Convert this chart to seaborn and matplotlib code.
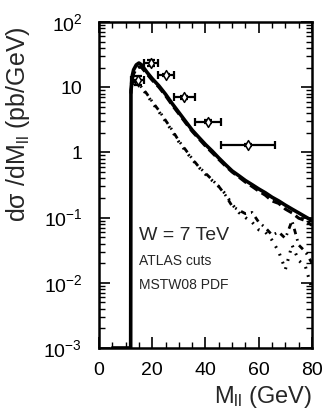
import numpy as np
import pandas as pd
import seaborn as sns
import matplotlib
matplotlib.use("Agg")
import matplotlib.pyplot as plt
from matplotlib.ticker import FixedLocator, FixedFormatter, MultipleLocator, LogLocator, NullFormatter

# invariant mass grid (GeV)
mll = [5, 11.9, 12.0, 12.5, 13, 14, 15, 16, 18, 20, 22.5, 25, 27.5, 30, 32.5, 35,
       37.5, 40, 42.5, 45, 47.5, 50, 52.5, 55, 57.5, 60, 62.5, 65, 67.5, 70,
       72.5, 75, 77.5, 80]

# solid: total
sig_total = [1e-3, 1e-3, 9, 15, 18.5, 22, 23.5, 22, 17, 13.5, 10.5, 7.8, 5.6, 4.1,
             3.0, 2.2, 1.7, 1.32, 1.05, 0.82, 0.65, 0.52, 0.44, 0.37, 0.32, 0.275,
             0.24, 0.205, 0.18, 0.155, 0.135, 0.118, 0.103, 0.09]
# dashed
sig_dash = [np.nan, np.nan, 8, 13, 16, 19, 20.5, 20, 16, 12.8, 10.0, 7.4, 5.3, 3.9,
            2.85, 2.1, 1.62, 1.25, 0.99, 0.78, 0.62, 0.5, 0.42, 0.35, 0.3, 0.255,
            0.22, 0.18, 0.165, 0.135, 0.118, 0.098, 0.09, 0.076]
# dotted
sig_dot = [np.nan, np.nan, np.nan, 11, 12, 11, 10.5, 9.8, 7.6, 5.8, 4.2, 3.0, 2.1,
           1.45, 1.05, 0.78, 0.59, 0.46, 0.37, 0.3, 0.23, 0.16, 0.12, 0.1, 0.085,
           0.065, 0.06, 0.045, 0.03, 0.016, 0.038, 0.022, 0.018, 0.008]
# dash-dot
sig_dashdot = [np.nan, np.nan, np.nan, 12, 12.5, 11.5, 10.8, 10.0, 7.9, 6.0, 4.4,
               3.1, 2.2, 1.5, 1.1, 0.8, 0.6, 0.48, 0.38, 0.3, 0.22, 0.15, 0.13,
               0.115, 0.12, 0.085, 0.07, 0.054, 0.06, 0.048, 0.09, 0.038, 0.03, 0.02]

# ATLAS data
atlas_m = [14.5, 19.5, 25.0, 32.0, 41.0, 56.0]
atlas_lo = [12, 17, 22, 28, 36, 46]
atlas_hi = [17, 22, 28, 36, 46, 66]
atlas_sig = [12.9, 23.8, 15.4, 7.0, 2.96, 1.30]
atlas_err = [2.0, 2.8, 0.8, 0.4, 0.15, 0.06]

ytick_vals = [1e-3, 1e-2, 1e-1, 1, 10, 100]
ytick_labels = [r'$10^{-3}$', r'$10^{-2}$', r'$10^{-1}$', '1', '10', r'$10^{2}$']

sns.set_theme(style="ticks")
plt.rcParams['font.family'] = ['Liberation Sans', 'DejaVu Sans']
plt.rcParams['mathtext.fontset'] = 'custom'
plt.rcParams['mathtext.rm'] = 'Liberation Sans'
plt.rcParams['mathtext.it'] = 'Liberation Sans'

df = pd.DataFrame({'M': mll, 'total': sig_total, 'dash': sig_dash,
                   'dot': sig_dot, 'dashdot': sig_dashdot})

fig = plt.figure(figsize=(3.25, 4.17), dpi=100)
ax = fig.add_axes([0.3046, 0.1655, 0.6554, 0.7817])

sns.lineplot(data=df, x='M', y='total', ax=ax, color='black', lw=2.6)
sns.lineplot(data=df.dropna(subset=['dash']), x='M', y='dash', ax=ax,
             color='black', lw=2.2, linestyle=(0, (3, 1.5)))
sns.lineplot(data=df.dropna(subset=['dot']), x='M', y='dot', ax=ax,
             color='black', lw=2.2, linestyle=(0, (0.6, 2.2)))
sns.lineplot(data=df.dropna(subset=['dashdot']), x='M', y='dashdot', ax=ax,
             color='black', lw=2.0, linestyle=(0, (2.0, 1.8, 0.6, 1.8)))

xerr = [np.array(atlas_m) - np.array(atlas_lo), np.array(atlas_hi) - np.array(atlas_m)]
ax.errorbar(atlas_m, atlas_sig, xerr=xerr, yerr=atlas_err, fmt='none',
            ecolor='black', elinewidth=1.6, capsize=3, capthick=1.6)
sns.scatterplot(x=atlas_m, y=atlas_sig, ax=ax, marker='d', s=25,
                facecolor='white', edgecolor='black', linewidth=1.1, zorder=5)

ax.set_yscale('log')
ax.set_xlim(0, 80)
ax.set_ylim(1e-3, 1e2)

ax.xaxis.set_major_locator(MultipleLocator(20))
ax.xaxis.set_minor_locator(MultipleLocator(5))
ax.yaxis.set_major_locator(FixedLocator(ytick_vals))
ax.yaxis.set_major_formatter(FixedFormatter(ytick_labels))
ax.yaxis.set_minor_locator(LogLocator(base=10, subs=np.arange(2, 10)))
ax.yaxis.set_minor_formatter(NullFormatter())

ax.tick_params(which='both', direction='in', top=True, right=True, colors='black',
               labelsize=14)
ax.tick_params(which='major', length=8, width=1.2)
ax.tick_params(axis='x', which='major', pad=10)
ax.tick_params(axis='y', which='major', pad=12)
ax.tick_params(which='minor', length=4, width=1.0)
for s in ax.spines.values():
    s.set_linewidth(1.8)
    s.set_color('black')

ax.set_xlabel(r'M$_{\rm ll}$ (GeV)', fontsize=17, loc='right', labelpad=4)
ax.set_ylabel(r'd$\sigma$ /dM$_{\rm ll}$ (pb/GeV)', fontsize=18)
ax.yaxis.set_label_coords(-0.315, 0.687)

ax.text(0.188, 0.331, 'W = 7 TeV', transform=ax.transAxes, fontsize=14)
ax.text(0.188, 0.255, 'ATLAS cuts', transform=ax.transAxes, fontsize=10)
ax.text(0.188, 0.181, 'MSTW08 PDF', transform=ax.transAxes, fontsize=10)

fig.savefig('out.png', dpi=100)
